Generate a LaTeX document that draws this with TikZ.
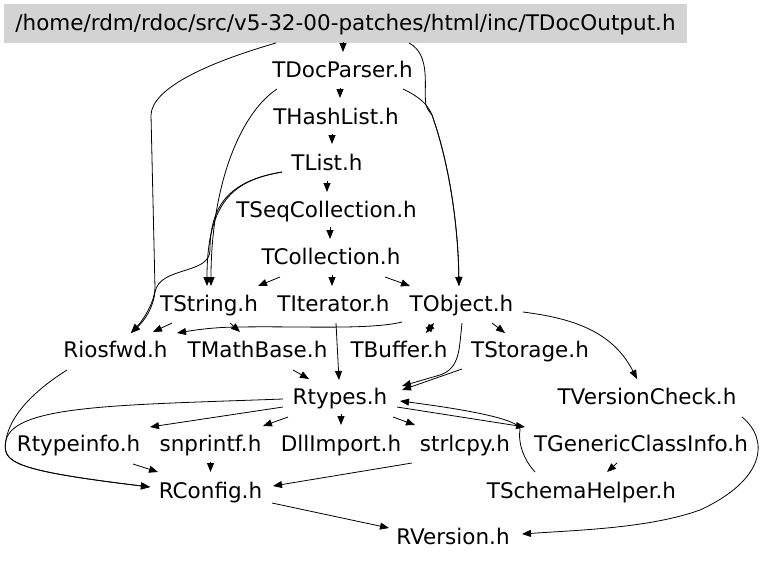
\documentclass[tikz,border=0pt]{standalone}
\usepackage{fontspec}
\setmainfont{DejaVu Sans}
\usetikzlibrary{arrows.meta,calc}
\definecolor{boxgrey}{HTML}{D3D3D3}
\begin{document}
\begin{tikzpicture}[x=1pt,y=-1pt,
  hdr/.style={font=\fontsize{21.5}{26}\selectfont, anchor=base, inner xsep=4pt, inner ysep=10pt, text height=15.7pt, text depth=0pt},
  arr/.style={draw=black, line width=0.8pt, -{Triangle[length=9pt,width=7pt]}},
  bothway/.style={draw=black, line width=0.8pt, {Triangle[length=9pt,width=7pt]}-{Triangle[length=9pt,width=7pt]}}
]
\useasboundingbox[fill=white] (0,0) rectangle (768,562);

\node[hdr, fill=boxgrey, text depth=1.7pt, inner ysep=10.8pt, inner xsep=0pt, minimum width=683pt] (top) at (345.5,30.5) {/home/rdm/rdoc/src/v5-32-00-patches/html/inc/TDocOutput.h};
\node[hdr] (tdp) at (342.5,77) {TDocParser.h};
\node[hdr] (thl) at (336,124) {THashList.h};
\node[hdr] (tli) at (327,170.5) {TList.h};
\node[hdr] (tsc) at (326.5,217) {TSeqCollection.h};
\node[hdr] (tco) at (331,264) {TCollection.h};
\node[hdr] (tst) at (209,311) {TString.h};
\node[hdr] (tit) at (333.5,311) {TIterator.h};
\node[hdr] (tob) at (461.5,311) {TObject.h};
\node[hdr] (rio) at (115.5,357.5) {Riosfwd.h};
\node[hdr] (tmb) at (257.5,357.5) {TMathBase.h};
\node[hdr] (tbu) at (399,357.5) {TBuffer.h};
\node[hdr] (tsg) at (530,357.5) {TStorage.h};
\node[hdr] (tvc) at (647,404) {TVersionCheck.h};
\node[hdr] (rty) at (340,404) {Rtypes.h};
\node[hdr] (rti) at (78.5,451) {Rtypeinfo.h};
\node[hdr] (snp) at (210.5,451) {snprintf.h};
\node[hdr] (dll) at (341,451) {DllImport.h};
\node[hdr] (slc) at (465,451) {strlcpy.h};
\node[hdr] (tgc) at (641,451) {TGenericClassInfo.h};
\node[hdr] (rco) at (210.5,498) {RConfig.h};
\node[hdr] (tsh) at (581.5,498) {TSchemaHelper.h};
\node[hdr] (rve) at (453,544.5) {RVersion.h};

% straight chain
\draw[arr] ($(top.base)+(-2.5,11.5)$) -- ($(tdp.base)+(0.5,-25)$);
\draw[arr] ($(tdp.base)+(-2.5,11)$) -- ($(thl.base)+(4,-26)$);
\draw[arr] ($(thl.base)+(-4,10)$) -- ($(tli.base)+(5,-26.5)$);
\draw[arr] ($(tli.base)+(0,10.5)$) -- ($(tsc.base)+(0.5,-25)$);
\draw[arr] ($(tsc.base)+(3.5,10)$) -- ($(tco.base)+(-1,-25)$);
\draw[arr] ($(tco.base)+(1,11)$) -- ($(tit.base)+(-1.5,-25)$);
\draw[arr] ($(tco.base)+(-51,13)$) -- ($(tst.base)+(49,-25)$);
\draw[arr] ($(tco.base)+(54,13)$) -- ($(tob.base)+(-51.5,-25)$);
\draw[arr] ($(tst.base)+(-37,12)$) -- ($(rio.base)+(37.5,-25.5)$);
\draw[arr] ($(tst.base)+(21,12)$) -- ($(tmb.base)+(-17.5,-25.5)$);

% long curves on the left
\draw[arr] ($(top.base)+(-69.5,12.5)$) .. controls (200,65) and (152,90) .. (151,115)
  -- (155,288) .. controls (155,300) and (145,318) .. ($(rio.base)+(15.5,-24.5)$);
\draw[arr] ($(tdp.base)+(-65.5,12)$) .. controls (238,115) and (211,190) .. ($(tst.base)+(2,-25)$);
\draw[arr] ($(tli.base)+(-45,1.5)$) .. controls (235,180) and (207,200) .. ($(tst.base)+(-2,-25)$);
\draw[arr] ($(tli.base)+(-45,1.5)$) .. controls (235,180) and (210,200) .. (210,250)
  .. controls (210,275) and (160,266) .. (155,292) .. controls (153,308) and (145,320) .. ($(rio.base)+(15.5,-24.5)$);

% curves on the right to TObject
\draw[arr] ($(tdp.base)+(60.5,12)$) .. controls (420,97) and (428,105) .. (432,115)
  .. controls (448,160) and (458,220) .. ($(tob.base)+(-2.5,-25)$);
\draw[arr] ($(top.base)+(63.5,12.5)$) .. controls (432,55) and (423,90) .. (426,105)
  .. controls (428,111) and (430,112) .. (432,115)
  .. controls (448,160) and (458,220) .. ($(tob.base)+(-2.5,-25)$);

% from TObject
\draw[arr] ($(tob.base)+(-59.5,11)$) .. controls (370,330) and (300,326) .. (240,327)
  .. controls (215,327) and (195,330) .. ($(rio.base)+(61.5,-24.5)$);
\draw[bothway] ($(tob.base)+(-27.5,12)$) -- ($(tbu.base)+(27,-24.5)$);
\draw[arr] ($(tob.base)+(30.5,12)$) -- ($(tsg.base)+(-25,-24.5)$);
\draw[arr] ($(tob.base)+(0.5,12)$) .. controls (459,350) and (460,368) .. (440,375)
  -- ($(rty.base)+(62,-18)$);
\draw[arr] ($(tob.base)+(61.5,1)$) .. controls (570,318) and (612,330) .. ($(tvc.base)+(-10,-25)$);

% into Rtypes
\draw[arr] ($(tsg.base)+(-68,11.5)$) -- ($(rty.base)+(62,-14)$);
\draw[arr] ($(tit.base)+(2.5,12)$) -- ($(rty.base)+(-1,-24)$);
\draw[arr] ($(tmb.base)+(35.5,12.5)$) -- ($(rty.base)+(-31,-25)$);
\draw[arr] ($(tsh.base)+(-46.5,-26)$) .. controls (522,458) and (518,440) .. (520,430)
  .. controls (522,420) and (470,410) .. ($(rty.base)+(60,-3)$);

% from Rtypes
\draw[arr] ($(rty.base)+(-57,3)$) -- ($(rti.base)+(71.5,-24)$);
\draw[arr] ($(rty.base)+(-52,13)$) -- ($(snp.base)+(52.5,-25)$);
\draw[arr] ($(rty.base)+(1,10)$) -- ($(dll.base)+(0,-26)$);
\draw[arr] ($(rty.base)+(53,13)$) -- ($(slc.base)+(-50,-26)$);
\draw[arr] ($(rty.base)+(57,3)$) -- ($(tgc.base)+(-116,-24)$);
\draw[arr] ($(rty.base)+(-57,-5)$) .. controls (120,405) and (15,405) .. (6,440)
  .. controls (2,462) and (10,470) .. ($(rco.base)+(-60.5,-11)$);
\draw[arr] ($(rio.base)+(-48.5,12.5)$) .. controls (35,390) and (10,415) .. (6,440)
  .. controls (2,462) and (10,470) .. ($(rco.base)+(-60.5,-11)$);

% bottom
\draw[arr] ($(tgc.base)+(-24,12)$) -- ($(tsh.base)+(25.5,-26)$);
\draw[arr] ($(rti.base)+(54.5,13)$) -- ($(rco.base)+(-52.5,-26)$);
\draw[arr] ($(snp.base)+(0,11)$) -- ($(rco.base)+(0,-26)$);
\draw[arr] ($(slc.base)+(-53,12)$) -- ($(rco.base)+(62.5,-12)$);
\draw[arr] ($(rco.base)+(61.5,5)$) -- ($(rve.base)+(-64,-16.5)$);
\draw[arr] ($(tvc.base)+(95,13)$) .. controls (770,440) and (765,480) .. (700,510)
  .. controls (650,528) and (580,530) .. ($(rve.base)+(69,-10.5)$);
\end{tikzpicture}
\end{document}
